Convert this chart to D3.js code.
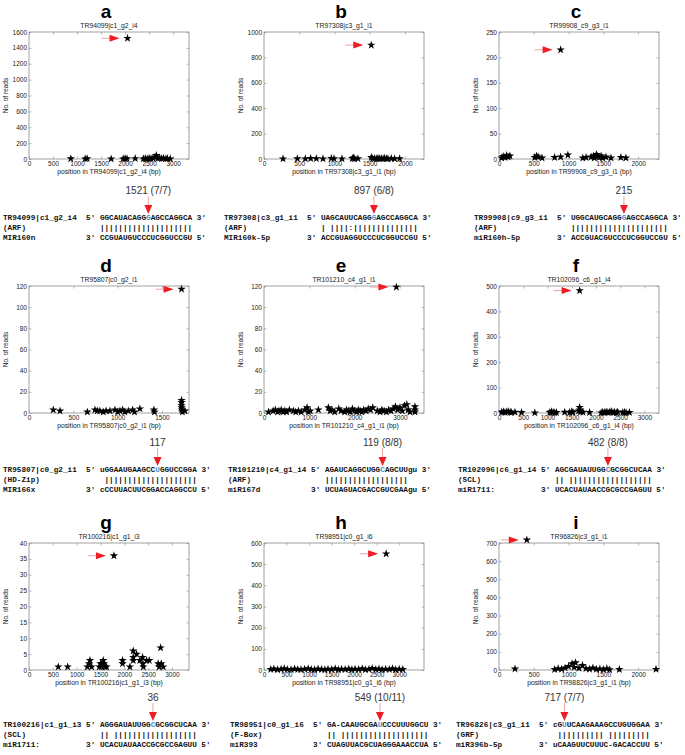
<!DOCTYPE html>
<html>
<head>
<meta charset="utf-8">
<script src="https://cdn.jsdelivr.net/npm/d3@7"></script>
<style>
body { margin: 0; background: #fff; }
svg text { font-family: Arial, "Liberation Sans", sans-serif; }
</style>
</head>
<body>
<svg id="fig" width="685" height="755"></svg>
<script>
// panel letters, titles and axis labels
var panelIds = ["a", "b", "c", "d", "e", "f", "g", "h", "i"];
var titles = ["TR94099|c1_g2_i4", "TR97308|c3_g1_i1", "TR99908_c9_g3_i1",
              "TR95807|c0_g2_i1", "TR101210_c4_g1_i1", "TR102096_c6_g1_i4",
              "TR100216|c1_g1_i3", "TR98951|c0_g1_i6", "TR96826|c3_g1_i1"];
var xLabels = ["position in TR94099|c1_g2_i4 (bp)", "position in TR97308|c3_g1_i1 (bp)", "position in TR99908_c9_g3_i1 (bp)",
               "position in TR95807|c0_g2_i1 (bp)", "position in TR101210_c4_g1_i1 (bp)", "position in TR102096_c6_g1_i4 (bp)",
               "position in TR100216|c1_g1_i3 (bp)", "position in TR98951|c0_g1_i6 (bp)", "position in TR98826|c3_g1_i1 (bp)"];

// axis ranges and ticks
var xMax = [3330, 2270, 2300, 1805, 3530, 3300, 3357, 3550, 2300];
var xTickMax = [3000, 2000, 2000, 1500, 3000, 3000, 3000, 3000, 2000];
var xStep = [500, 500, 500, 500, 1000, 500, 500, 500, 500];
var yMax = [1600, 1000, 250, 120, 120, 500, 40, 600, 700];
var yStep = [200, 200, 50, 20, 20, 100, 5, 100, 100];

// cleavage peak (position, reads)
var peakPos = [2050, 1522, 886, 1721, 2921, 1663, 1782, 2710, 400];
var peakReads = [1521, 897, 215, 117, 119, 482, 36, 549, 717];

// other degradome reads [position, reads]
var readsA = [[870,5],[1170,3],[1210,5],[1710,2],[1960,3],[2000,8],[2040,4],[2210,6],[2380,3],[2420,8],[2460,2],[2500,10],
  [2540,5],[2580,12],[2620,20],[2650,45],[2680,8],[2720,15],[2760,5],[2800,10],[2850,4],[2880,6],[2940,3]];
var readsB = [[270,2],[473,3],[586,2],[662,4],[742,3],[837,2],[955,5],[993,3],[1106,2],[1253,4],[1270,8],[1286,2],[1333,3],
  [1522,12],[1540,3],[1570,5],[1600,2],[1617,6],[1640,3],[1664,4],[1690,2],[1712,7],[1740,3],[1759,2],[1806,4],[1853,2],[1924,3]];
var readsC = [[38,2],[60,5],[86,3],[110,7],[133,4],[157,6],[514,3],[540,6],[562,4],[619,2],[800,3],[886,4],[990,8],[1205,2],
  [1252,3],[1324,4],[1360,6],[1371,2],[1400,9],[1419,5],[1440,3],[1467,6],[1490,2],[1538,4],[1610,2],[1752,3],[1824,2]];
var readsD = [[274,3],[350,2],[658,1],[744,3],[770,2],[800,2],[838,1],[870,2],[913,2],[970,3],[1000,1],[1026,2],[1056,3],
  [1080,1],[1120,2],[1169,3],[1190,1],[1251,4],[1409,3],[1415,1],[1721,12],[1721,10],[1721,7],[1721,5],[1725,3],[1730,1],[1759,2]];
var readsE = [[100,1],[200,2],[250,3],[300,1],[330,2],[380,3],[420,1],[460,2],[500,1],[560,3],[650,2],[700,1],[760,2],[820,1],
  [900,3],[950,5],[980,1],[1020,2],[1200,3],[1420,5],[1460,2],[1500,3],[1560,1],[1650,4],[1700,2],[1780,1],[1820,3],[1860,2],
  [1900,1],[1950,4],[2000,2],[2040,1],[2080,3],[2120,2],[2160,1],[2200,3],[2250,2],[2300,4],[2350,3],[2400,5],[2500,2],[2560,1],
  [2600,3],[2650,2],[2700,1],[2750,3],[2800,2],[2850,4],[2900,6],[2950,3],[3000,5],[3050,2],[3100,7],[3150,8],[3180,3],[3220,1],
  [3330,6],[3330,3],[3330,1]];
var readsF = [[55,3],[90,5],[123,2],[160,4],[191,6],[230,3],[260,2],[329,3],[465,2],[739,1],[1047,2],[1080,5],[1116,3],[1150,1],
  [1184,2],[1355,3],[1458,2],[1500,5],[1526,3],[1640,8],[1663,22],[1670,12],[1680,4],[1732,3],[1868,2],[2108,1],[2140,3],[2177,2],
  [2210,4],[2245,2],[2280,3],[2313,6],[2350,2],[2382,3],[2420,1],[2450,4],[2553,2],[2590,3],[2622,1],[2690,2]];
var readsG = [[615,1],[811,1],[1223,1],[1260,2],[1279,3],[1314,1],[1475,1],[1500,2],[1523,1],[1540,2],[1558,3],[1570,2],[1593,1],
  [1628,1],[1963,3],[1963,2],[2117,1],[2187,6],[2187,4],[2187,3],[2257,5],[2327,3],[2383,4],[2390,2],[2400,1],[2467,3],[2523,3],
  [2711,2],[2730,1],[2761,7],[2775,2],[2816,1]];
var readsH = [[150,3],[220,5],[300,2],[380,4],[450,6],[520,3],[600,2],[680,5],[750,3],[820,2],[900,4],[980,6],[1050,3],[1120,2],
  [1200,5],[1280,3],[1350,2],[1420,4],[1500,3],[1580,6],[1650,2],[1720,4],[1800,3],[1880,5],[1950,2],[2020,4],[2100,3],[2180,6],
  [2250,2],[2330,4],[2400,8],[2480,3],[2550,5],[2620,2],[2700,4],[2780,3],[2850,6],[2920,2],[3000,4],[3080,3]];
var readsI = [[230,6],[800,3],[850,8],[900,5],[950,12],[1000,20],[1050,35],[1080,15],[1100,40],[1150,10],[1200,25],[1250,8],
  [1300,5],[1350,12],[1400,4],[1450,6],[1500,3],[1550,8],[1590,2],[1730,3],[2257,4]];
var lowReads = [readsA, readsB, readsC, readsD, readsE, readsF, readsG, readsH, readsI];

// target / miRNA alignments
var targetNames = ["TR94099|c1_g2_i4", "TR97308|c3_g1_i1", "TR99908|c9_g3_i1", "TR95807|c0_g2_i1", "TR101210|c4_g1_i4",
                   "TR102096|c6_g1_i4", "TR100216|c1_g1_i3", "TR98951|c0_g1_i6", "TR96826|c3_g1_i1"];
var families = ["(ARF)", "(ARF)", "(ARF)", "(HD-Zip)", "(ARF)", "(SCL)", "(SCL)", "(F-Box)", "(GRF)"];
var mirNames = ["MIR160n", "MIR160k-5p", "miR160h-5p", "MIR166x", "miR167d", "miR1711:", "miR1711:", "miR393", "miR396b-5p"];
var targetSeqs = ["GGCAUACAGGGAGCCAGGCA", "UAGCAUUCAGGGAGCCAGGCA", "UGGCAUGCAGGGAGCCAGGCA", "uGGAAUGAAGCCUGGUCCGGA",
                  "AGAUCAGGCUGGCAGCUUgu", "AGCGAUAUUGGCGCGGCUCAA", "AGGGAUAUUGGCGCGGCUCAA", "GA-CAAUGCGAUCCCUUUGGCU",
                  "cGUUCAAGAAAGCCUGUGGAA"];
var pairLines = ["||||||||||||||||||||", "| ||||:||||||||||||||", "|||||||||||||||||||||", " ||||||||||||||||||||",
                 "||||||||||||||||||  ", "|| ||||||||||||||||||", "|| ||||||||||||||||||", "|| |||||||||||||||||||",
                 " |||||||||| |||||||||"];
var mirSeqs = ["CCGUAUGUCCCUCGGUCCGU", "ACCGUAGGUCCCUCGGUCCGU", "ACCGUACGUCCCUCGGUCCGU", "cCCUUACUUCGGACCAGGCCU",
               "UCUAGUACGACCGUCGAAgu", "UCACUAUAACCGCGCCGAGUU", "UCACUAUAACCGCGCCGAGUU", "CUAGUUACGCUAGGGAAACCUA",
               "uCAAGUUCUUUC-GACACCUU"];
var cleaveIdx = [10, 11, 11, 12, 12, 11, 11, 11, 2];
var cleaveLabels = ["1521 (7/7)", "897 (6/8)", "215", "117", "119 (8/8)", "482 (8/8)", "36", "549 (10/11)", "717 (7/7)"];
var alignLeft = [3, 224, 474, 3, 228, 458, 3, 230, 456];

// layout
var colLeft = [29, 264, 499];
var rowTop = [32, 286, 543];
var alignBase = [220, 472, 727];
var plotW = 160, plotH = 127;
var frameColor = "#8a8a8a";
var monoSize = 7.7;

var svg = d3.select("#fig");
var star = d3.symbol().type(d3.symbolStar).size(22);
var fmt = d3.format("d");

function pad(s, n) { while (s.length < n) s += " "; return s; }

panelIds.forEach(function(id, i) {
  var col = i % 3, row = Math.floor(i / 3);
  var left = colLeft[col], top = rowTop[row];
  var g = svg.append("g");

  var x = d3.scaleLinear().domain([0, xMax[i]]).range([left, left + plotW]);
  var y = d3.scaleLinear().domain([0, yMax[i]]).range([top + plotH, top]);
  var xt = d3.range(0, xTickMax[i] + 1, xStep[i]);
  var yt = d3.range(0, yMax[i] + 1, yStep[i]);

  // letter + title
  g.append("text").attr("x", left + plotW / 2 - 3).attr("y", top - 14.5)
    .attr("text-anchor", "middle").style("font-size", "19px").style("font-weight", "bold").text(id);
  g.append("text").attr("x", left + plotW / 2).attr("y", top - 4.2)
    .attr("text-anchor", "middle").style("font-size", "6.8px").attr("fill", "#222").text(titles[i]);

  // axes (MATLAB style, ticks inside)
  g.append("g").attr("transform", "translate(0," + (top + plotH) + ")")
    .call(d3.axisBottom(x).tickValues(xt).tickFormat(fmt).tickSizeInner(-2.5).tickSizeOuter(0).tickPadding(2.5));
  g.append("g").attr("transform", "translate(0," + top + ")")
    .call(d3.axisTop(x).tickValues(xt).tickSizeInner(-2.5).tickSizeOuter(0).tickFormat(""));
  g.append("g").attr("transform", "translate(" + left + ",0)")
    .call(d3.axisLeft(y).tickValues(yt).tickFormat(fmt).tickSizeInner(-2.5).tickSizeOuter(0).tickPadding(2));
  g.append("g").attr("transform", "translate(" + (left + plotW) + ",0)")
    .call(d3.axisRight(y).tickValues(yt).tickSizeInner(-2.5).tickSizeOuter(0).tickFormat(""));
  g.selectAll(".domain").remove();
  g.selectAll(".tick line").attr("stroke", frameColor).attr("stroke-width", 0.6);
  g.selectAll(".tick text").style("font-size", "6.5px").style("font-family", "Arial, 'Liberation Sans', sans-serif")
    .attr("fill", "#222");
  g.append("rect").attr("x", left).attr("y", top).attr("width", plotW).attr("height", plotH)
    .attr("fill", "none").attr("stroke", frameColor).attr("stroke-width", 0.8);

  g.append("text").attr("x", left + plotW / 2).attr("y", top + plotH + 15)
    .attr("text-anchor", "middle").style("font-size", "6.8px").attr("fill", "#222").text(xLabels[i]);
  g.append("text").attr("transform", "translate(" + (left - 21) + "," + (top + plotH / 2) + ") rotate(-90)")
    .attr("text-anchor", "middle").style("font-size", "6.5px").attr("fill", "#222").text("No. of reads");

  // reads
  var pts = lowReads[i].concat([[peakPos[i], peakReads[i]]]);
  g.selectAll("path.star").data(pts).enter().append("path")
    .attr("class", "star")
    .attr("d", star)
    .attr("transform", function(d) { return "translate(" + x(d[0]) + "," + y(d[1]) + ")"; })
    .attr("fill", "#000");

  // red arrow pointing at the peak
  var tipX = x(peakPos[i]) - 8, tipY = y(peakReads[i]);
  g.append("line").attr("x1", tipX - 18).attr("x2", tipX - 9).attr("y1", tipY).attr("y2", tipY)
    .attr("stroke", "#f08a8a").attr("stroke-width", 0.8);
  g.append("path").attr("d", "M" + (tipX - 10) + "," + (tipY - 3.5) + "L" + tipX + "," + tipY + "L" + (tipX - 10) + "," + (tipY + 3.5) + "Z")
    .attr("fill", "#ee1c25");

  // alignment
  var B = alignBase[row], x0 = alignLeft[i];
  var seq = targetSeqs[i], k = cleaveIdx[i];
  function mono(yy) {
    return g.append("text").attr("x", x0).attr("y", yy).attr("xml:space", "preserve")
      .style("white-space", "pre").style("font-family", "'Liberation Mono', 'Courier New', monospace")
      .style("font-weight", "bold").style("font-size", monoSize + "px").attr("fill", "#111");
  }
  var t1 = mono(B);
  t1.append("tspan").text(pad(targetNames[i], 17) + " 5' " + seq.slice(0, k));
  t1.append("tspan").attr("fill", "#3d8fd6").text(seq.charAt(k));
  t1.append("tspan").text(seq.slice(k + 1) + " 3'");
  mono(B + 10).text(pad(families[i], 21) + pairLines[i]);
  mono(B + 19.5).text(pad(mirNames[i], 18) + "3' " + mirSeqs[i] + " 5'");

  var n = 21 + k, node = t1.node(), ax0;
  try {
    ax0 = (node.getStartPositionOfChar(n).x + node.getEndPositionOfChar(n).x) / 2;
  } catch (e) {
    ax0 = x0 + (n + 0.5) * monoSize * 0.6;
  }
  g.append("line").attr("x1", ax0).attr("x2", ax0).attr("y1", B - 24).attr("y2", B - 14)
    .attr("stroke", "#f08a8a").attr("stroke-width", 0.8);
  g.append("path").attr("d", "M" + (ax0 - 4) + "," + (B - 15) + "L" + (ax0 + 4) + "," + (B - 15) + "L" + ax0 + "," + (B - 6) + "Z")
    .attr("fill", "#ee1c25");
  g.append("text").attr("x", ax0).attr("y", B - 26).attr("text-anchor", "middle")
    .style("font-size", "10px").attr("fill", "#333").text(cleaveLabels[i]);
});
</script>
</body>
</html>
